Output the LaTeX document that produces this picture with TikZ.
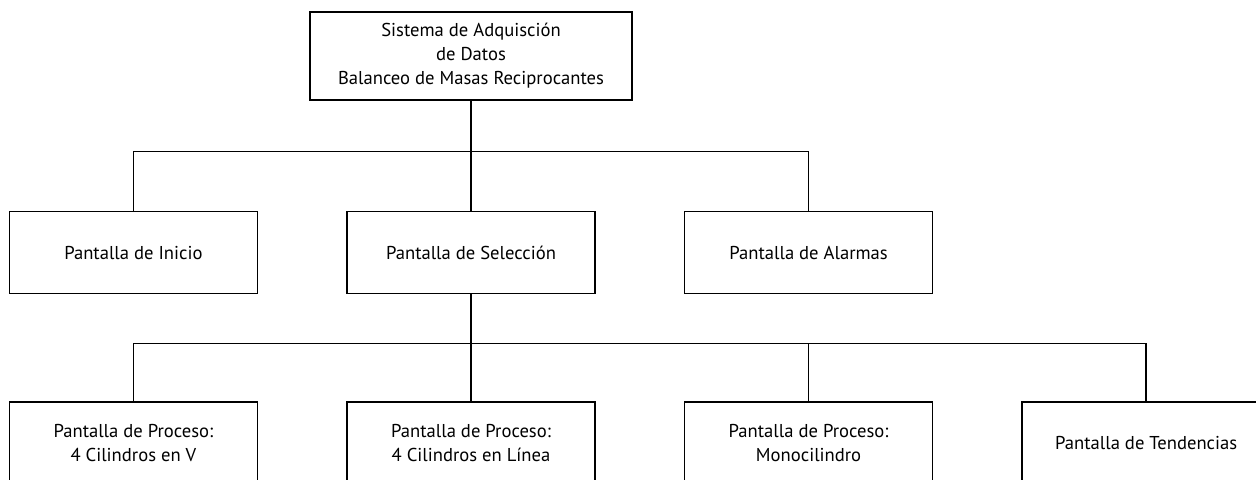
\documentclass[tikz,border=0pt]{standalone}
\usepackage{fontspec}
\setmainfont{PT Sans}
\usepackage{tikz}
\usetikzlibrary{positioning,calc}

\begin{document}
\begin{tikzpicture}[
  every node/.style={draw, line width=0.9pt, minimum width=4.96cm, minimum height=1.64cm, align=center, font=\fontsize{10.6}{13.6}\selectfont},
  link/.style={line width=1pt}
]
\useasboundingbox (0,0) rectangle (25.12,-9.58);

\node[minimum width=6.44cm, minimum height=1.76cm] (sis) at (9.42,-1.12) {Sistema de Adquisción\\de Datos\\Balanceo de Masas Reciprocantes};
\node[below=2.2cm of sis] (sel) {Pantalla de Selección};
\node[left=1.76cm of sel] (ini) {Pantalla de Inicio};
\node[right=1.76cm of sel] (ala) {Pantalla de Alarmas};
\node[below=2.14cm of ini] (pv) {Pantalla de Proceso:\\4 Cilindros en V};
\node[below=2.14cm of sel] (pl) {Pantalla de Proceso:\\4 Cilindros en Línea};
\node[below=2.14cm of ala] (pm) {Pantalla de Proceso:\\Monocilindro};
\node[right=1.76cm of pm] (ten) {Pantalla de Tendencias};

% buses
\coordinate (b1) at ($(sis.south)!0.46!(sel.north)$);
\coordinate (b2) at ($(sel.south)!0.46!(pl.north)$);

\draw[link] (sis) -- (sel);
\draw[link] (ini.north) |- (b1) -| (ala.north);
\draw[link] (sel) -- (pl);
\draw[link] (pv.north) |- (b2) -| (ten.north);
\draw[link] (b2 -| pm.north) -- (pm.north);
\end{tikzpicture}
\end{document}
